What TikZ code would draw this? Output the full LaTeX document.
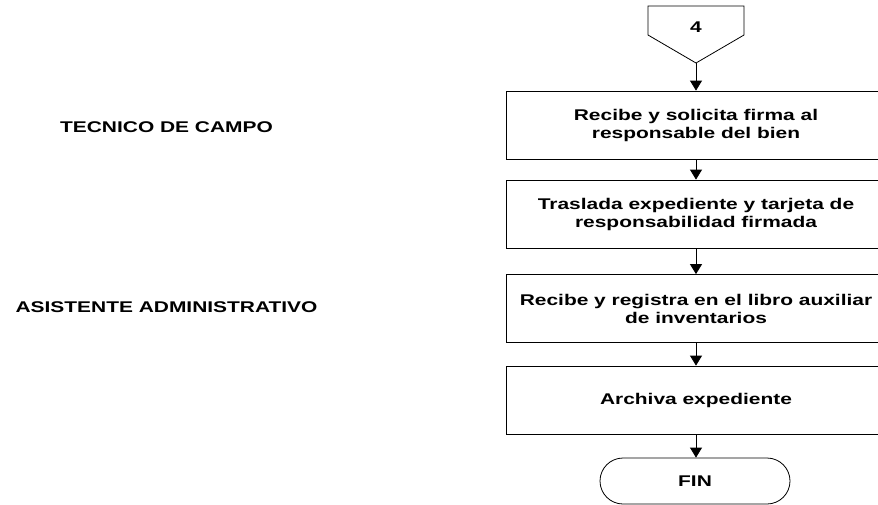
\documentclass[tikz,border=0pt]{standalone}
\usepackage{fontspec}
\setmainfont{Liberation Sans}[FakeStretch=1.35]
\usetikzlibrary{arrows.meta}

\tikzset{
  proceso/.style={draw, line width=0.8pt, minimum width=380pt, minimum height=68pt, align=center, font=\bfseries},
  terminal/.style={draw, line width=0.8pt, rounded corners=23pt, minimum width=190pt, minimum height=46pt, font=\bfseries},
  rol/.style={font=\bfseries},
  flecha/.style={line width=0.8pt, -{Triangle[width=12pt,length=10pt]}}
}

\begin{document}
\begin{tikzpicture}[x=1pt,y=-1pt]
        \useasboundingbox (0,0) rectangle (878,504);
        \clip (0,0) rectangle (878,504);
        \fontsize{15.5}{18}\selectfont

        % responsables
        \node[rol] (tecnico) at (166.5,127) {TECNICO DE CAMPO};
        \node[rol] (asistente) at (166.5,307) {ASISTENTE ADMINISTRATIVO};

        % conector de pagina
        \draw[line width=0.8pt] (648,6) -- (744,6) -- (744,35) -- (696,63) -- (648,35) -- cycle;
        \node[font=\bfseries] (conector) at (696,27) {4};
        \coordinate (conectorPunta) at (696,63);

        % pasos
        \node[proceso] (recibe) at (696,125) {Recibe y solicita firma al\\responsable del bien};
        \node[proceso] (traslada) at (696,214) {Traslada expediente y tarjeta de\\responsabilidad firmada};
        \node[proceso] (registra) at (696,308.5) {Recibe y registra en el libro auxiliar\\de inventarios};
        \node[proceso] (archiva) at (696,400) {Archiva expediente};
        \node[terminal] (fin) at (695,481) {FIN};

        \draw[flecha] (conectorPunta) -- (recibe);
        \draw[flecha] (recibe) -- (traslada);
        \draw[flecha] (traslada) -- (registra);
        \draw[flecha] (registra) -- (archiva);
        \draw[flecha] (archiva) -- (archiva |- fin.north);

\end{tikzpicture}
\end{document}
